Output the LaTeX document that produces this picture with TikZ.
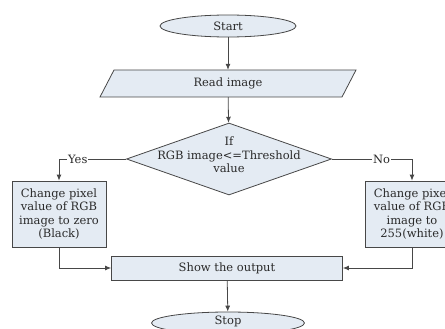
\documentclass[tikz,border=0pt]{standalone}
\usepackage{fontspec}
\setmainfont{DejaVu Serif}
\usetikzlibrary{shapes.geometric,arrows.meta}
\definecolor{boxfill}{HTML}{E4EBF3}
\definecolor{lineclr}{HTML}{474747}
\definecolor{txtclr}{HTML}{2A2A2A}
\begin{document}
\begin{tikzpicture}[x=1pt,y=-1pt,
  every node/.style={text=txtclr,font=\fontsize{11.5}{13.5}\selectfont},
  shp/.style={draw=lineclr,fill=boxfill,line width=0.8pt,inner sep=0pt},
  procbox/.style={shp,rectangle,align=center},
  arr/.style={draw=lineclr,line width=0.8pt,-{Latex[length=6pt,width=5pt]}},
  lbl/.style={fill=white,inner sep=1pt}]
\useasboundingbox (0,0) rectangle (445,329);
\clip (0,0) rectangle (445,329);
\node (start) [shp,ellipse,minimum width=136pt,minimum height=22pt] at (228,26) {Start};
% parallelogram for "Read image"
\coordinate (rtl) at (114,70);
\coordinate (rtr) at (356,70);
\coordinate (rbr) at (342,97);
\coordinate (rbl) at (100,97);
\draw[draw=lineclr,fill=boxfill,line width=0.8pt] (rtl) -- (rtr) -- (rbr) -- (rbl) -- cycle;
\node (read) [rectangle,minimum width=228pt,minimum height=27pt,inner sep=0pt] at (228,83.5) {Read image};
\node (dec) [shp,diamond,minimum width=205pt,minimum height=72pt,
  label={[align=center,yshift=4pt]center:If\\RGB image<=Threshold\\value}] at (229,159) {};
\node (lbox) [procbox,minimum width=94pt,minimum height=66pt] at (59,214)
  {Change pixel\\value of RGB\\image to zero\\(Black)};
\node (rbox) [procbox,minimum width=94pt,minimum height=66pt] at (412,214)
  {Change pixel\\value of RGB\\image to\\\oldstylenums{255}(white)};
\node (show) [procbox,minimum width=231pt,minimum height=24pt] at (227,268) {Show the output};
\node (stop) [shp,ellipse,minimum width=153pt,minimum height=22pt] at (228,323) {};
\node (stoptxt) at (228,321) {Stop};
\draw[arr] (start) -- (read);
\draw[arr] (read) -- (dec);
\draw[arr] (dec.west) -| node[lbl,pos=0.36] {Yes} (lbox.north);
\draw[arr] (dec.east) -| node[lbl,pos=0.31] {No} (rbox.north);
\draw[arr] (lbox.south) |- (show.west);
\draw[arr] (rbox.south) |- (show.east);
\draw[arr] (show) -- (stop);
\end{tikzpicture}
\end{document}
